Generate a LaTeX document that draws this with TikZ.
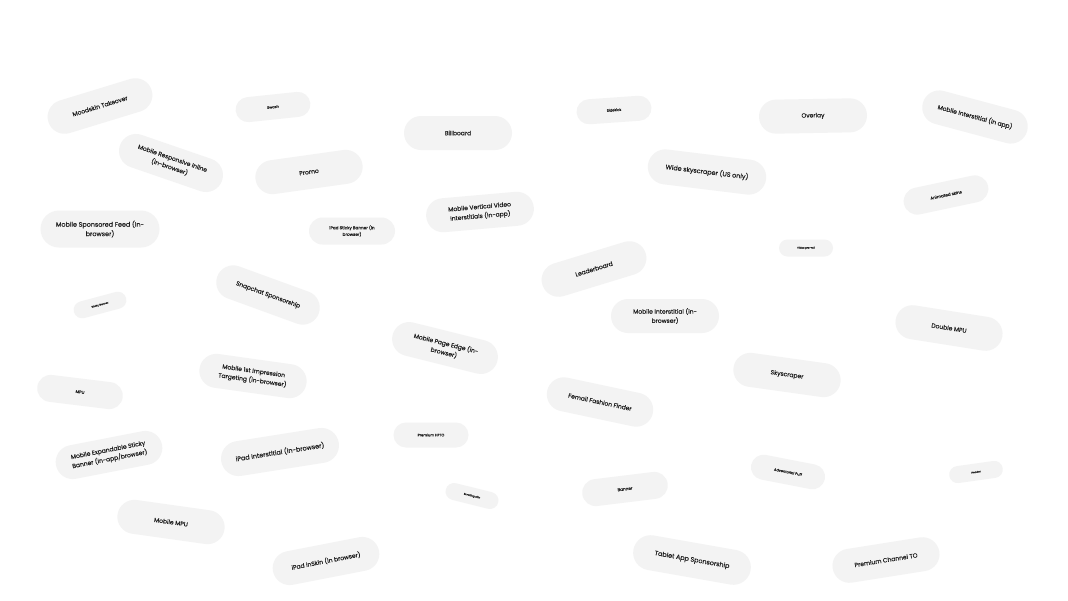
\documentclass[tikz,border=0pt]{standalone}
\usepackage{fontspec}
\setmainfont{Poppins}[FakeBold=0.3]
\definecolor{pillgray}{HTML}{F3F3F3}
\definecolor{inkgray}{HTML}{1E1E1E}
\tikzset{
  pill/.style={rectangle, fill=pillgray, text=inkgray, align=center, inner sep=0pt},
  pillW/.style={pill, minimum width=119pt, minimum height=35pt, rounded corners=17.5pt, font=\fontsize{6.4}{9.4}\selectfont},
  pillL/.style={pill, minimum width=108pt, minimum height=34pt, rounded corners=17pt, font=\fontsize{6.0}{9.2}\selectfont},
  pillM/.style={pill, minimum width=86pt, minimum height=27pt, rounded corners=13.5pt, font=\fontsize{4.2}{6.6}\selectfont},
  pillS/.style={pill, minimum width=75pt, minimum height=25pt, rounded corners=12.5pt, font=\fontsize{3.6}{5.4}\selectfont},
  pillT/.style={pill, minimum width=54pt, minimum height=17pt, rounded corners=8.5pt, font=\fontsize{2.6}{4}\selectfont},
}
\begin{document}
\begin{tikzpicture}[x=1pt,y=-1pt]
\fill[white] (0,0) rectangle (1068,600);
\useasboundingbox (0,0) rectangle (1068,600);
% row 1
\node[pillL, rotate=17] (moodskin) at (100,106) {Moodskin Takeover};
\node[pillS, rotate=6] (swash) at (273,107) {Swash};
\node[pillL, rotate=0] (billboard) at (458,133) {Billboard};
\node[pillS, rotate=4] (sidekick) at (614,110) {Sidekick};
\node[pillL, rotate=1] (overlay) at (813,116) {Overlay};
\node[pillL, rotate=-15] (mintapp) at (975,117) {Mobile Interstitial (in app)};
% row 2
\node[pillL, rotate=-19] (mresp) at (171,163) {Mobile Responsive Inline\\(in-browser)};
\node[pillL, rotate=8] (promo) at (309,172) {Promo};
\node[pillW, rotate=-7] (widesky) at (707,172) {Wide skyscraper (US only)};
\node[pillM, rotate=12] (animskins) at (946,195) {Animated skins};
% row 3
\node[pillW, rotate=0, minimum height=37pt, rounded corners=18.5pt] (msponsored) at (100,229) {Mobile Sponsored Feed (In-\\browser)};
\node[pillM, rotate=0] (ipadsticky) at (352,231) {iPad Sticky Banner (in\\browser)};
\node[pillL, rotate=5] (mvvideo) at (480,212) {Mobile Vertical Video\\Interstitials (in-app)};
\node[pillT, rotate=0] (preroll) at (806,248) {Video pre-roll};
\node[pillL, rotate=17] (leaderboard) at (594,269) {Leaderboard};
% row 4
\node[pillL, rotate=-20] (snapchat) at (268,295) {Snapchat Sponsorship};
\node[pillT, rotate=15] (sticky) at (100,305) {Sticky Banner};
\node[pillL, rotate=0] (mintbrowser) at (665,316) {Mobile Interstitial (in-\\browser)};
\node[pillL, rotate=-9] (doublempu) at (949,328) {Double MPU};
\node[pillL, rotate=-14] (mpageedge) at (445,348) {Mobile Page Edge (in-\\browser)};
% row 5
\node[pillL, rotate=-8] (mfirst) at (253,376) {Mobile 1st Impression\\Targeting (in-browser)};
\node[pillL, rotate=-8] (skyscraper) at (787,375) {Skyscraper};
\node[pillM, rotate=-7] (mpu) at (80,392) {MPU};
\node[pillL, rotate=-12] (femail) at (600,402) {Femail Fashion Finder};
% row 6
\node[pillS, rotate=0] (hpto) at (431,435) {Premium HPTO};
\node[pillL, rotate=11] (mexpand) at (109,455) {Mobile Expandable Sticky\\Banner (in-app/browser)};
\node[pillW, rotate=9] (ipadint) at (280,452) {iPad Interstitial (in-browser)};
\node[pillS, rotate=-11] (advpuff) at (788,472) {Adventorial Puff};
\node[pillT, rotate=8] (header) at (976,472) {Header};
\node[pillT, rotate=-14] (scrolling) at (472,496) {Scrolling skin};
\node[pillM, rotate=7] (banner) at (625,489) {Banner};
% row 7
\node[pillL, rotate=-8] (mmpu) at (171,522) {Mobile MPU};
\node[pillL, rotate=11] (ipadinskin) at (326,561) {iPad inSkin (in browser)};
\node[pillW, rotate=-10] (tablet) at (692,560) {Tablet App Sponsorship};
\node[pillL, rotate=9] (premchannel) at (886,560) {Premium Channel TO};
\end{tikzpicture}
\end{document}
